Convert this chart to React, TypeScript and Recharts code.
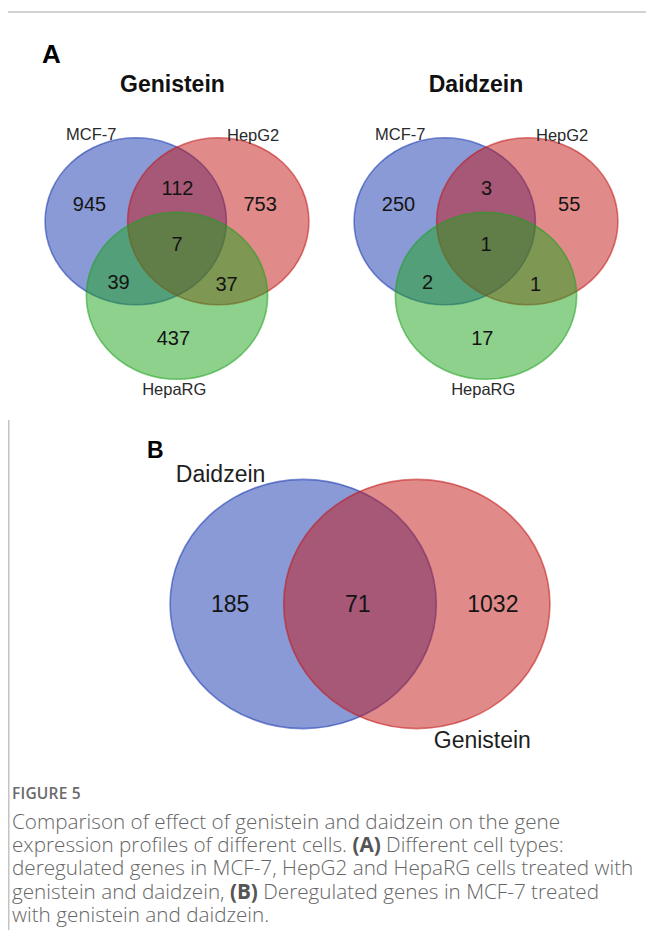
import React from 'react';
import { ScatterChart, Scatter, XAxis, YAxis, ReferenceArea } from 'recharts';

// ---- data ----
const cellLines = ['MCF-7', 'HepG2', 'HepaRG'];
const compounds = ['Genistein', 'Daidzein'];

// Region counts: MCF-7 only, HepG2 only, HepaRG only, MCF-7∩HepG2, MCF-7∩HepaRG, HepG2∩HepaRG, all three
const genisteinCounts = [945, 753, 437, 112, 39, 37, 7];
const daidzeinCounts = [250, 55, 17, 3, 2, 1, 1];

// MCF-7 comparison: Daidzein only, Genistein only, shared
const mcf7Sets = ['Daidzein', 'Genistein'];
const mcf7Counts = [185, 1032, 71];

// ---- layout (unit-circle space, y grows downward) ----
const TRIPLE_CIRCLES = [
  { cx: -0.455, cy: 0 },
  { cx: 0.455, cy: 0 },
  { cx: 0, cy: 0.892 },
];
const TRIPLE_REGION_ANCHORS = [
  [-0.965, -0.21],
  [0.917, -0.21],
  [-0.04, 1.39],
  [0.005, -0.4],
  [-0.645, 0.73],
  [0.547, 0.75],
  [0, 0.27],
];
const TRIPLE_SET_ANCHORS = [
  [-0.945, -1.048],
  [0.84, -1.036],
  [-0.03, 2.006],
];
const PAIR_CIRCLES = [
  { cx: -0.4267, cy: 0 },
  { cx: 0.4267, cy: 0 },
];
const PAIR_REGION_ANCHORS = [
  [-0.975, 0],
  [0.998, 0],
  [-0.017, 0],
];
const PAIR_SET_ANCHORS = [
  [-1.047, -1.048],
  [0.919, 1.088],
];

const SET_COLORS = ['#1535AD', '#C11515', '#1BA31B'];
const FONT = '"Liberation Sans", Arial, Helvetica, sans-serif';

const TEXT_STYLES: Record<string, any> = {
  count: { fontSize: 20, fontWeight: 400, fill: '#141414' },
  set: { fontSize: 16.5, fontWeight: 400, fill: '#2a2a2a' },
  title: { fontSize: 23, fontWeight: 700, fill: '#111' },
  bigCount: { fontSize: 23, fontWeight: 400, fill: '#141414' },
  bigSet: { fontSize: 23, fontWeight: 400, fill: '#1e1e1e' },
};

const ellipseShape = (p: any) => (
  <ellipse
    cx={p.x + p.width / 2}
    cy={p.y + p.height / 2}
    rx={Math.abs(p.width) / 2}
    ry={Math.abs(p.height) / 2}
    fill={p.fill}
    fillOpacity={p.fillOpacity}
    stroke={p.stroke}
    strokeOpacity={p.strokeOpacity}
    strokeWidth={p.strokeWidth}
  />
);

const textShape = (p: any) => {
  const { cx, cy, payload } = p;
  const s = TEXT_STYLES[payload.kind];
  return (
    <text
      x={cx}
      y={cy}
      dy="0.36em"
      textAnchor="middle"
      fontFamily={FONT}
      fontSize={s.fontSize}
      fontWeight={s.fontWeight}
      fill={s.fill}
    >
      {payload.text}
    </text>
  );
};

function TripleVenn({
  title,
  titleX,
  counts,
  left,
  top,
}: {
  title: string;
  titleX: number;
  counts: number[];
  left: number;
  top: number;
}) {
  const marks = [
    ...counts.map((v, i) => ({
      x: TRIPLE_REGION_ANCHORS[i][0],
      y: TRIPLE_REGION_ANCHORS[i][1],
      text: String(v),
      kind: 'count',
    })),
    ...cellLines.map((name, i) => ({
      x: TRIPLE_SET_ANCHORS[i][0],
      y: TRIPLE_SET_ANCHORS[i][1],
      text: name,
      kind: 'set',
    })),
    { x: titleX, y: -1.647, text: title, kind: 'title' },
  ];
  return (
    <div style={{ position: 'absolute', left, top }}>
      <ScatterChart width={272} height={334} margin={{ top: 0, right: 0, bottom: 0, left: 0 }}>
        <XAxis type="number" dataKey="x" domain={[-1.5, 1.5]} hide />
        <YAxis type="number" dataKey="y" domain={[-1.8, 2.2]} reversed hide />
        {TRIPLE_CIRCLES.map((c, i) => (
          <ReferenceArea
            key={i}
            x1={c.cx - 1}
            x2={c.cx + 1}
            y1={c.cy - 1}
            y2={c.cy + 1}
            ifOverflow="visible"
            fill={SET_COLORS[i]}
            fillOpacity={0.5}
            stroke={SET_COLORS[i]}
            strokeOpacity={0.55}
            strokeWidth={1.6}
            shape={ellipseShape}
          />
        ))}
        <Scatter data={marks} shape={textShape} isAnimationActive={false} />
      </ScatterChart>
    </div>
  );
}

function PairVenn({ left, top }: { left: number; top: number }) {
  const marks = [
    ...mcf7Counts.map((v, i) => ({
      x: PAIR_REGION_ANCHORS[i][0],
      y: PAIR_REGION_ANCHORS[i][1],
      text: String(v),
      kind: 'bigCount',
    })),
    ...mcf7Sets.map((name, i) => ({
      x: PAIR_SET_ANCHORS[i][0],
      y: PAIR_SET_ANCHORS[i][1],
      text: name,
      kind: 'bigSet',
    })),
  ];
  return (
    <div style={{ position: 'absolute', left, top }}>
      <ScatterChart width={426} height={324} margin={{ top: 0, right: 0, bottom: 0, left: 0 }}>
        <XAxis type="number" dataKey="x" domain={[-1.6, 1.6]} hide />
        <YAxis type="number" dataKey="y" domain={[-1.3, 1.3]} reversed hide />
        {PAIR_CIRCLES.map((c, i) => (
          <ReferenceArea
            key={i}
            x1={c.cx - 1}
            x2={c.cx + 1}
            y1={c.cy - 1}
            y2={c.cy + 1}
            ifOverflow="visible"
            fill={SET_COLORS[i]}
            fillOpacity={0.5}
            stroke={SET_COLORS[i]}
            strokeOpacity={0.55}
            strokeWidth={1.6}
            shape={ellipseShape}
          />
        ))}
        <Scatter data={marks} shape={textShape} isAnimationActive={false} />
      </ScatterChart>
    </div>
  );
}

const captionFont = '"Open Sans", "Noto Sans", sans-serif';

export default function App() {
  return (
    <div
      style={{
        position: 'absolute',
        left: 0,
        top: 0,
        width: 646,
        height: 931,
        background: '#fff',
        overflow: 'hidden',
      }}
    >
      <svg width={646} height={931} style={{ position: 'absolute', left: 0, top: 0 }}>
        <rect x={8} y={11} width={638} height={2} fill="#d2d2d2" />
        <rect x={8} y={420} width={1.5} height={510} fill="#c4c4c4" />
        <text x={42} y={63} fontFamily={FONT} fontSize={26} fontWeight={700} fill="#000">
          A
        </text>
        <text x={147} y={458} fontFamily={FONT} fontSize={23} fontWeight={700} fill="#000">
          B
        </text>
      </svg>

      <TripleVenn title={compounds[0]} titleX={-0.05} counts={genisteinCounts} left={40.5} top={71.2} />
      <TripleVenn title={compounds[1]} titleX={-0.11} counts={daidzeinCounts} left={350} top={71.2} />
      <PairVenn left={147.25} top={442} />

      <div style={{ position: 'absolute', left: 12, top: 781, fontFamily: captionFont, color: '#6a6a6a' }}>
        <div style={{ fontSize: 15.5, fontWeight: 600, lineHeight: '24px', letterSpacing: 0.2 }}>FIGURE 5</div>
        <div
          style={{
            fontSize: 20.7,
            fontWeight: 300,
            lineHeight: '23.2px',
            marginTop: 5,
            whiteSpace: 'nowrap',
            color: '#666',
          }}
        >
          Comparison of effect of genistein and daidzein on the gene
          <br />
          expression profiles of different cells. <b style={{ color: '#555', fontWeight: 700 }}>(A)</b> Different cell types:
          <br />
          deregulated genes in MCF-7, HepG2 and HepaRG cells treated with
          <br />
          genistein and daidzein, <b style={{ color: '#555', fontWeight: 700 }}>(B)</b> Deregulated genes in MCF-7 treated
          <br />
          with genistein and daidzein.
        </div>
      </div>
    </div>
  );
}
